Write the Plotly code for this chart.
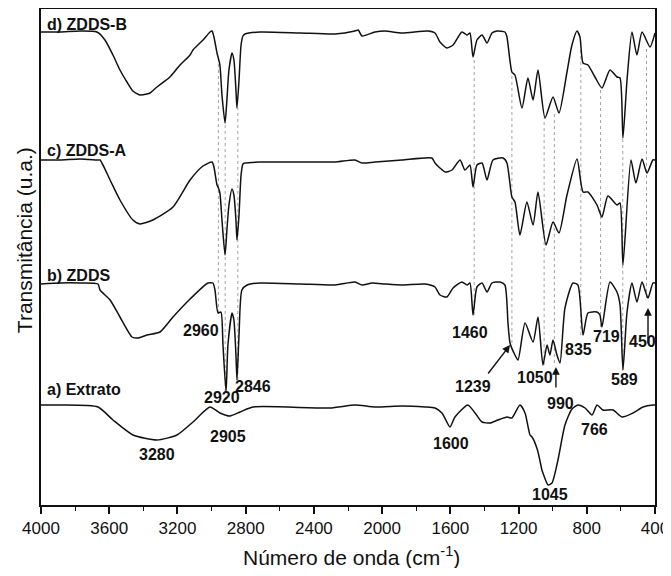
import plotly.graph_objects as go

# ---------------- data (wavenumber cm-1, transmittance in arbitrary units) ----------------
wn_d = [4000, 3889, 3771, 3672, 3625, 3578, 3537, 3496, 3461, 3420, 3379, 3361, 3320, 3244, 3185, 3126, 3109,
        3050, 3009, 2997, 2986, 2968, 2962, 2951, 2939, 2921, 2910, 2898, 2880, 2869, 2857, 2851, 2839, 2827,
        2816, 2804, 2716, 2481, 2276, 2159, 2140, 2118, 2042, 1983, 1883, 1731, 1690, 1661, 1620, 1584, 1532,
        1502, 1485, 1467, 1444, 1414, 1385, 1356, 1326, 1280, 1268, 1239, 1221, 1180, 1145, 1115, 1086, 1045,
        998, 963, 916, 887, 857, 840, 822, 793, 752, 711, 664, 623, 605, 588, 564, 535, 506, 476, 429, 400]
t_d = [473, 473, 474, 473, 465, 450, 435, 423, 414, 410, 411, 412, 418, 428, 440, 450, 455,
       465, 473, 474, 468, 452, 448, 440, 410, 382, 405, 435, 452, 445, 415, 397, 425, 460,
       469, 471, 473, 472, 471, 474, 475, 469, 473, 474, 472, 474, 472, 463, 457, 460, 473,
       470, 472, 448, 465, 470, 462, 472, 474, 473, 468, 433, 430, 397, 427, 405, 435, 387,
       408, 392, 433, 460, 474, 468, 442, 440, 428, 417, 435, 428, 427, 367, 425, 473, 450, 473, 458, 472]

wn_c = [4000, 3889, 3771, 3666, 3654, 3595, 3537, 3461, 3420, 3344, 3226, 3126, 3050, 2997, 2986, 2968, 2962,
        2951, 2939, 2921, 2910, 2898, 2880, 2869, 2857, 2851, 2839, 2827, 2816, 2804, 2716, 2481, 2276, 2159,
        2118, 2042, 1883, 1708, 1690, 1661, 1631, 1590, 1543, 1514, 1485, 1467, 1444, 1414, 1385, 1350, 1291,
        1268, 1239, 1221, 1192, 1151, 1115, 1086, 1039, 998, 963, 916, 857, 822, 793, 740, 711, 676, 623, 605,
        588, 541, 512, 476, 447, 412, 400]
t_c = [345, 345, 346, 345, 345, 325, 305, 285, 281, 285, 298, 325, 339, 343, 338, 320, 318,
       312, 285, 250, 275, 300, 316, 310, 285, 265, 290, 330, 341, 342, 343, 343, 343, 345,
       342, 343, 345, 347, 342, 337, 333, 335, 345, 335, 340, 318, 340, 342, 325, 345, 347,
       342, 308, 303, 270, 303, 280, 313, 260, 283, 272, 310, 346, 313, 313, 300, 288, 309, 300, 302,
       240, 345, 322, 346, 332, 345, 345]

wn_b = [4000, 3889, 3771, 3666, 3654, 3595, 3537, 3466, 3431, 3379, 3302, 3226, 3126, 3021, 2992, 2980, 2962,
        2945, 2933, 2915, 2904, 2880, 2869, 2857, 2851, 2839, 2822, 2792, 2716, 2481, 2276, 2159, 2118, 2059,
        1983, 1883, 1749, 1690, 1661, 1620, 1584, 1532, 1502, 1485, 1467, 1444, 1414, 1385, 1356, 1309, 1280,
        1262, 1250, 1221, 1203, 1162, 1115, 1086, 1057, 1033, 1016, 998, 975, 957, 928, 881, 852, 822, 793,
        740, 723, 711, 664, 623, 605, 588, 564, 535, 506, 476, 441, 412, 400]
t_b = [221, 222, 222, 221, 215, 205, 188, 168, 167, 170, 173, 188, 206, 222, 222, 215, 192,
       193, 160, 113, 160, 192, 185, 150, 125, 170, 215, 220, 222, 221, 220, 223, 220, 222,
       221, 220, 221, 218, 210, 208, 217, 223, 220, 222, 190, 218, 222, 213, 222, 223, 220,
       182, 162, 150, 145, 182, 163, 188, 140, 160, 150, 165, 150, 142, 197, 222, 220, 170, 192,
       193, 190, 178, 223, 213, 200, 135, 193, 222, 203, 223, 207, 222, 222]

wn_a = [4000, 3889, 3666, 3578, 3461, 3320, 3203, 3109, 3009, 2951, 2892, 2833, 2757, 2306, 2159, 2042, 1883,
        1749, 1690, 1649, 1602, 1573, 1497, 1455, 1414, 1367, 1321, 1268, 1239, 1192, 1162, 1133, 1121, 1089,
        1063, 1057, 1027, 1004, 969, 928, 887, 852, 810, 769, 740, 705, 646, 594, 529, 470, 412, 400]
t_a = [100, 100, 98, 85, 70, 65, 70, 83, 98, 92, 89, 93, 98, 97, 100, 98, 99,
       98, 97, 92, 78, 88, 100, 92, 83, 82, 85, 88, 87, 100, 92, 70, 68, 55,
       35, 32, 20, 22, 45, 80, 96, 100, 97, 90, 100, 95, 95, 88, 92, 98, 100, 100]

series_labels = ["d) ZDDS-B", "c) ZDDS-A", "b) ZDDS", "a) Extrato"]
series_label_y = [481, 355, 230, 116]

# dotted guide lines: wavenumber, top (on d) and bottom (on b)
line_wn = [2960, 2920, 2846, 1460, 1239, 1050, 990, 835, 719, 589, 450]
line_top = [448, 382, 397, 448, 433, 387, 392, 455, 417, 367, 458]
line_bottom = [192, 113, 125, 190, 162, 140, 142, 170, 178, 135, 207]

# peak labels
peak_text = ["2960", "2920", "2846", "2905", "3280", "1460", "1239", "1050", "990", "835",
             "719", "450", "589", "1600", "766", "1045"]
peak_x = [3062, 2939, 2757, 2904, 3320, 1485, 1467, 1104, 957, 846, 687, 476, 576, 1596, 752, 1016]
peak_y = [175, 108, 119, 69, 51, 173, 119, 128, 102, 156, 169, 164, 126, 62, 76, 11]

# arrows: head (x, y) and tail (x, y)
arrow_head_x = [1250, 981, 441]
arrow_head_y = [160, 138, 197]
arrow_tail_x = [1385, 981, 441]
arrow_tail_y = [130, 116, 160]

x_ticks = [4000, 3600, 3200, 2800, 2400, 2000, 1600, 1200, 800, 400]

# ---------------- figure ----------------
FONT = "Arial"
fig = go.Figure()

for wn, t in [(wn_d, t_d), (wn_c, t_c), (wn_b, t_b), (wn_a, t_a)]:
    fig.add_trace(go.Scatter(x=wn, y=t, mode="lines",
                             line=dict(color="#111111", width=1.5, shape="spline", smoothing=0.6),
                             showlegend=False, hoverinfo="skip"))

for xv, y0, y1 in zip(line_wn, line_bottom, line_top):
    fig.add_shape(type="line", xref="x", yref="y", x0=xv, x1=xv, y0=y0, y1=y1,
                  line=dict(color="#8a8a8a", width=0.8, dash="dot"), layer="below")

annotations = []
for txt, yv in zip(series_labels, series_label_y):
    annotations.append(dict(x=3977, y=yv, xref="x", yref="y", text="<b>" + txt + "</b>",
                            showarrow=False, xanchor="left", yanchor="middle",
                            font=dict(family=FONT, size=16, color="#111111")))
for txt, xv, yv in zip(peak_text, peak_x, peak_y):
    annotations.append(dict(x=xv, y=yv, xref="x", yref="y", text="<b>" + txt + "</b>",
                            showarrow=False, xanchor="center", yanchor="middle",
                            font=dict(family=FONT, size=16, color="#111111")))
for hx, hy, tx, ty in zip(arrow_head_x, arrow_head_y, arrow_tail_x, arrow_tail_y):
    annotations.append(dict(x=hx, y=hy, ax=tx, ay=ty, xref="x", yref="y", axref="x", ayref="y",
                            text="", showarrow=True, arrowhead=2, arrowsize=1.1, arrowwidth=1.4,
                            arrowcolor="#111111", standoff=0, startstandoff=0))

annotations.append(dict(x=-0.0277, y=0.534, xref="paper", yref="paper", text="Transmitância (u.a.)",
                        textangle=-90, showarrow=False, xanchor="center", yanchor="middle",
                        font=dict(family=FONT, size=21, color="#111111")))
annotations.append(dict(x=0.505, y=-0.103, xref="paper", yref="paper",
                        text="Número de onda (cm<sup>-1</sup>)",
                        showarrow=False, xanchor="center", yanchor="middle",
                        font=dict(family=FONT, size=21, color="#111111")))

# page body has an 8 px default margin, so the figure is sized/offset to compensate
fig.update_layout(
    width=663, height=560,
    margin=dict(l=33, r=16, t=1, b=63, autoexpand=False),
    paper_bgcolor="white", plot_bgcolor="white",
    annotations=annotations,
    xaxis=dict(range=[4000, 400], tickvals=x_ticks, ticktext=[str(v) for v in x_ticks],
               ticks="outside", ticklen=7, tickwidth=1.5, tickcolor="#111111",
               minor=dict(dtick=200, tick0=0, ticks="outside", ticklen=4, tickwidth=1.2, tickcolor="#111111"),
               showline=True, linecolor="#111111", linewidth=1.8, mirror=True,
               showgrid=False, zeroline=False, automargin=False,
               tickfont=dict(family=FONT, size=17, color="#111111")),
    yaxis=dict(range=[0, 496], showticklabels=False, ticks="",
               showline=True, linecolor="#111111", linewidth=1.8, mirror=True,
               showgrid=False, zeroline=False, automargin=False),
)

fig.write_html("out.html")
